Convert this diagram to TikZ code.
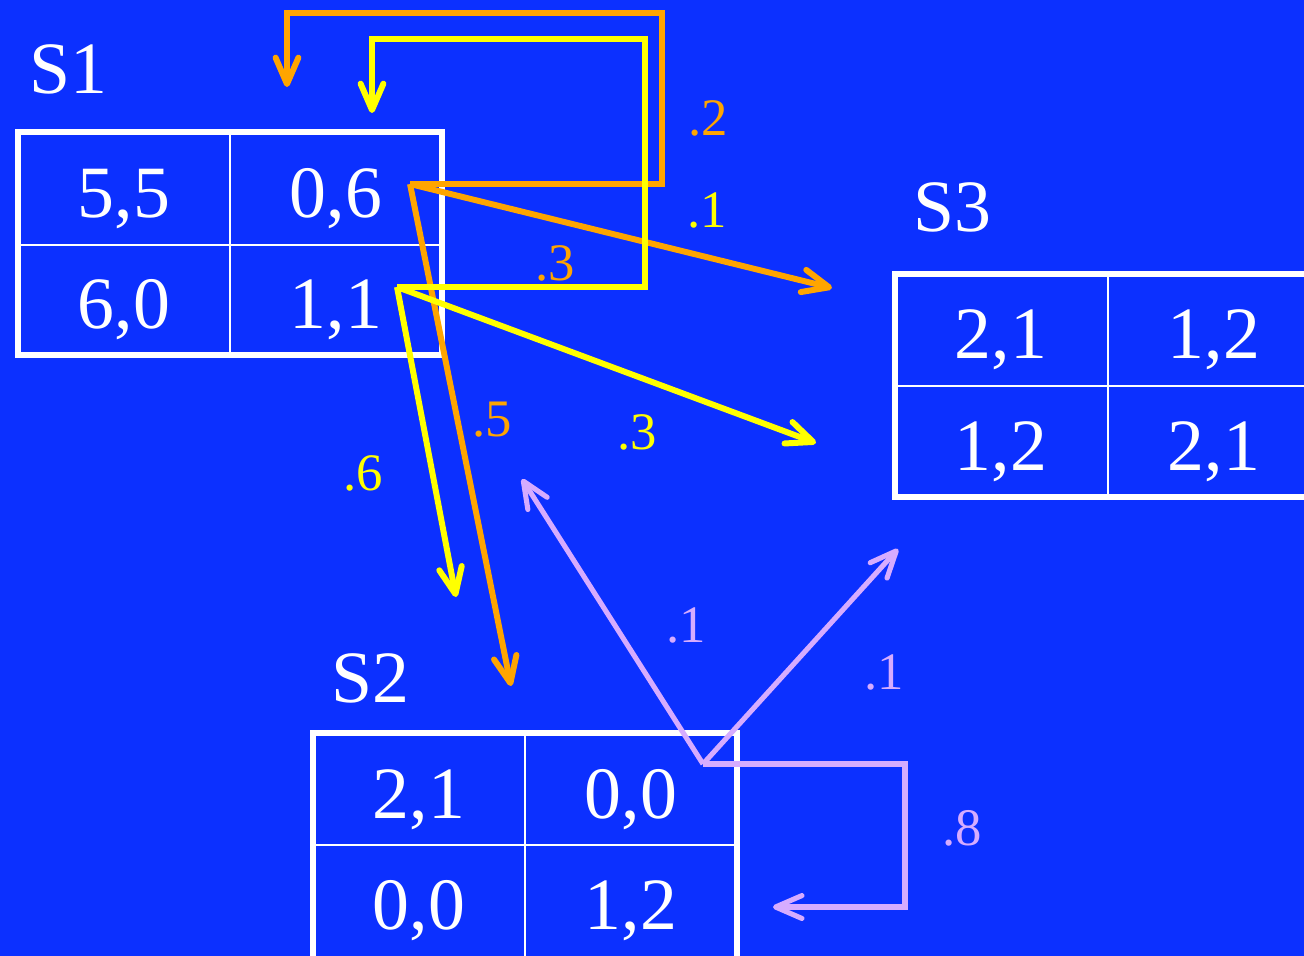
\documentclass[tikz,border=0pt]{standalone}
\usepackage{fontspec}
\setmainfont{Liberation Serif}
\usetikzlibrary{arrows.meta}
\definecolor{bg}{RGB}{12,48,255}
\definecolor{org}{RGB}{255,165,0}
\definecolor{yel}{RGB}{255,255,0}
\definecolor{lav}{RGB}{214,172,255}
\begin{document}
\begin{tikzpicture}[x=0.02cm,y=-0.02cm,
  cell/.style={text=white,font=\fontsize{42}{42}\selectfont,inner sep=0pt,anchor=base},
  title/.style={text=white,font=\fontsize{42}{42}\selectfont,inner sep=0pt,anchor=base},
  prob/.style={font=\fontsize{30}{30}\selectfont,inner sep=0pt,anchor=base},
  outerline/.style={draw=white,line width=3.4pt},
  innerline/.style={draw=white,line width=1.6pt},
  link/.style={line width=3.4pt,line join=miter,
    -{Straight Barb[length=15pt,width=13pt,round]}},
  lavlink/.style={link,line width=2.9pt,draw=lav}
]
\fill[bg] (0,0) rectangle (1304,956);
\useasboundingbox (0,0) rectangle (1304,956);
\clip (0,0) rectangle (1304,956);

% ---------- S1 ----------
\node[title] (t1) at (68,94) {S1};
\draw[innerline] (230,132) -- (230,355) (18,245) -- (442,245);
\draw[outerline] (18,132) rectangle (442,355);
\node[cell] (s1a) at (124,217) {5,5};
\node[cell] (s1b) at (336,217) {0,6};
\node[cell] (s1c) at (124,328) {6,0};
\node[cell] (s1d) at (336,328) {1,1};

% ---------- S3 ----------
\node[title] (t3) at (952,232) {S3};
\draw[innerline] (1108,274) -- (1108,497) (895,386) -- (1330,386);
\draw[outerline] (895,274) rectangle (1330,497);
\node[cell] (s3a) at (1001,358) {2,1};
\node[cell] (s3b) at (1214,358) {1,2};
\node[cell] (s3c) at (1001,470) {1,2};
\node[cell] (s3d) at (1214,470) {2,1};

% ---------- S2 ----------
\node[title] (t2) at (370,702) {S2};
\draw[innerline] (525,733) -- (525,970) (313,845) -- (737,845);
\draw[outerline] (313,733) rectangle (737,970);
\node[cell] (s2a) at (419,818) {2,1};
\node[cell] (s2b) at (631,818) {0,0};
\node[cell] (s2c) at (419,929) {0,0};
\node[cell] (s2d) at (631,929) {1,2};

% ---------- connector points ----------
\coordinate (o0) at (410,184);
\coordinate (y0) at (397,287);
\coordinate (l0) at (703,764);
\coordinate (oLoop) at (287,87);
\coordinate (yLoop) at (372,113);
\coordinate (oS3) at (832,288);
\coordinate (oS2) at (511,686);
\coordinate (yS3) at (816,443);
\coordinate (yS2) at (456,597);
\coordinate (lS1) at (522,479);
\coordinate (lS3) at (898,549);
\coordinate (lLoop) at (773,907);

% ---------- orange ----------
\draw[link,draw=org] (o0) -- (662,184) -- (662,13) -- (287,13) -- (oLoop);
\draw[link,draw=org] (o0) -- (oS3);
\draw[link,draw=org] (o0) -- (oS2);

% ---------- yellow ----------
\draw[link,draw=yel] (y0) -- (645,287) -- (645,39) -- (372,39) -- (yLoop);
\draw[link,draw=yel] (y0) -- (yS3);
\draw[link,draw=yel] (y0) -- (yS2);

% ---------- lavender ----------
\draw[lavlink] (l0) -- (lS1);
\draw[lavlink] (l0) -- (lS3);
\draw[lavlink] (l0) -- (905,764) -- (905,907) -- (lLoop);

% ---------- probabilities ----------
\node[prob,text=org] (p1) at (708,136) {.2};
\node[prob,text=yel] (p2) at (707,228) {.1};
\node[prob,text=org] (p3) at (555,280) {.3};
\node[prob,text=yel] (p4) at (637,449) {.3};
\node[prob,text=org] (p5) at (492,436) {.5};
\node[prob,text=yel] (p6) at (363,490) {.6};
\node[prob,text=lav] (p7) at (686,642) {.1};
\node[prob,text=lav] (p8) at (884,689) {.1};
\node[prob,text=lav] (p9) at (962,845) {.8};
\end{tikzpicture}
\end{document}
